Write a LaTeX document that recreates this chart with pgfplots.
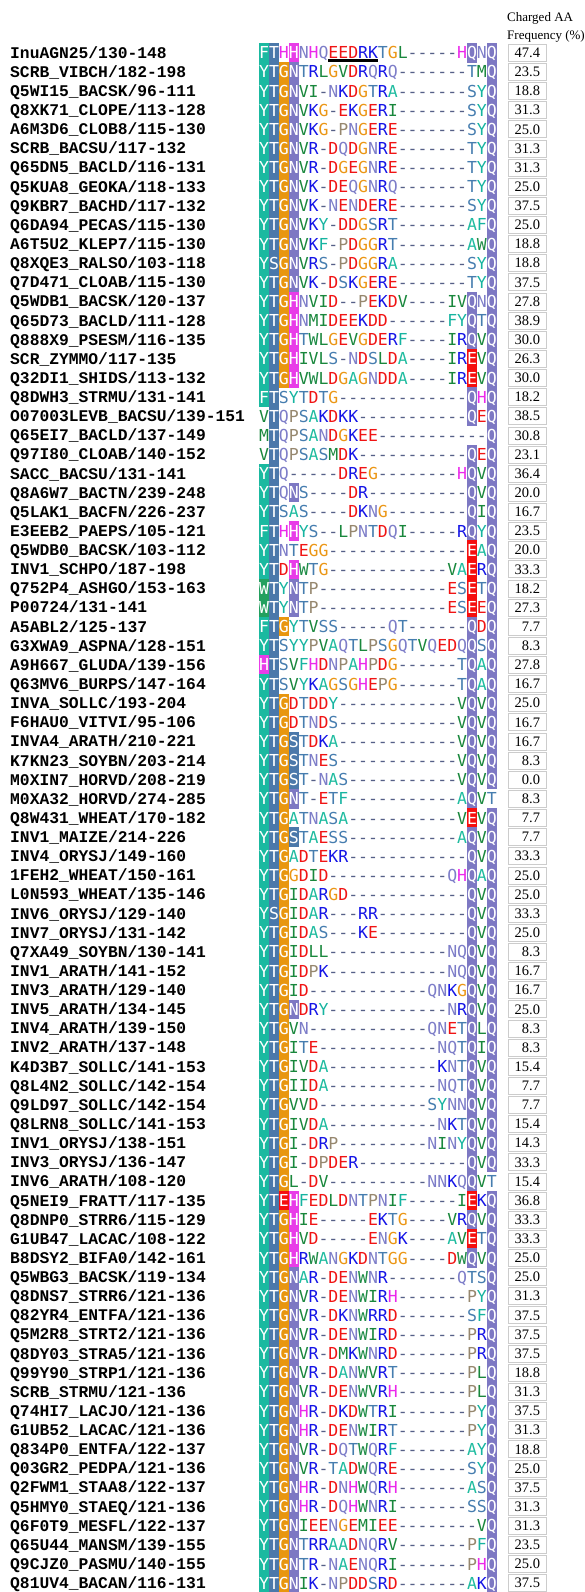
\documentclass[border=0pt]{standalone}
\usepackage{fontspec}
\usepackage{xcolor}
\usepackage{pgfplots}
\usepackage{pgfplotstable}
\pgfplotsset{compat=1.18}
\setmainfont{Liberation Serif}
\newfontfamily\namefont{Liberation Mono}
\newfontfamily\seqfont{DejaVu Sans Mono}

% residue (letter) colours
\definecolor{fgA}{RGB}{32,188,160}
\definecolor{fgY}{RGB}{22,180,160}
\definecolor{fgF}{RGB}{22,180,160}
\definecolor{fgW}{RGB}{30,140,70}
\definecolor{fgV}{RGB}{25,135,60}
\colorlet{fgI}{fgV}\colorlet{fgL}{fgV}\colorlet{fgM}{fgV}
\definecolor{fgK}{RGB}{20,20,230}\colorlet{fgR}{fgK}
\definecolor{fgD}{RGB}{240,20,20}\colorlet{fgE}{fgD}
\definecolor{fgN}{RGB}{125,125,200}\colorlet{fgQ}{fgN}
\definecolor{fgS}{RGB}{70,125,175}\colorlet{fgT}{fgS}
\definecolor{fgG}{RGB}{235,150,20}\colorlet{fgC}{fgG}
\definecolor{fgH}{RGB}{235,40,235}
\definecolor{fgP}{RGB}{150,135,110}
\definecolor{fgGap}{RGB}{85,95,135}
% background colours (lower case = shaded cell)
\definecolor{bgy}{RGB}{26,185,160}\colorlet{bgf}{bgy}
\definecolor{bgw}{RGB}{35,160,95}
\definecolor{bgt}{RGB}{75,120,170}\colorlet{bgs}{bgt}
\definecolor{bgg}{RGB}{232,150,15}
\definecolor{bgh}{RGB}{232,60,232}
\definecolor{bgn}{RGB}{125,120,195}\colorlet{bgq}{bgn}
\definecolor{bge}{RGB}{245,15,15}

\newlength\cw \setlength\cw{9.9pt}
\newlength\rht \setlength\rht{19.4pt}
\newlength\rdp \setlength\rdp{3.7pt}

\makeatletter
\def\seqrender#1{\seq@loop#1\@nil}
\def\seq@loop#1{\ifx#1\@nil\else\seq@char#1\expandafter\seq@loop\fi}
\def\seq@char#1{%
  \ifx-#1\makebox[\cw][c]{\textcolor{fgGap}{-}}%
  \else\ifnum\lccode`#1=`#1\relax\seq@bg#1%
  \else\makebox[\cw][c]{\textcolor{fg#1}{#1}}%
  \fi\fi}
\def\seq@bg#1{%
  \uppercase{\def\seq@U{#1}}%
  \rlap{\textcolor{bg#1}{\rule[-\rdp]{\cw}{\rht}}}%
  \makebox[\cw][c]{\textcolor{white}{\seq@U}}}
\def\seqnode{\edef\seq@tmp{\pgfplotspointmeta}\expandafter\seqrender\expandafter{\seq@tmp}}
\makeatother

\catcode`\_=12
\pgfplotstableread{
row name seq val
1 InuAGN25/130-148 ftHhNHQEEDRKTGL-----HqNq 47.4
2 SCRB_VIBCH/182-198 ytgnTRLGVDRQRQ-------TMq 23.5
3 Q5WI15_BACSK/96-111 ytgnVI-NKDGTRA-------SYq 18.8
4 Q8XK71_CLOPE/113-128 ytgnVKG-EKGERI-------SYq 31.3
5 A6M3D6_CLOB8/115-130 ytgnVKG-PNGERE-------SYq 25.0
6 SCRB_BACSU/117-132 ytgnVR-DQDGNRE-------TYq 31.3
7 Q65DN5_BACLD/116-131 ytgnVR-DGEGNRE-------TYq 31.3
8 Q5KUA8_GEOKA/118-133 ytgnVK-DEQGNRQ-------TYq 25.0
9 Q9KBR7_BACHD/117-132 ytgnVK-NENDERE-------SYq 37.5
10 Q6DA94_PECAS/115-130 ytgnVKY-DDGSRT-------AFq 25.0
11 A6T5U2_KLEP7/115-130 ytgnVKF-PDGGRT-------AWq 18.8
12 Q8XQE3_RALSO/103-118 ysgnVRS-PDGGRA-------SYq 18.8
13 Q7D471_CLOAB/115-130 ytgnVK-DSKGERE-------TYq 37.5
14 Q5WDB1_BACSK/120-137 ytghNVID--PEKDV----IVqNq 27.8
15 Q65D73_BACLD/111-128 ytghNMIDEEKDD------FYqTq 38.9
16 Q888X9_PSESM/116-135 ytghTWLGEVGDERF----IRqVq 30.0
17 SCR_ZYMMO/117-135 ytghIVLS-NDSLDA----IReVq 26.3
18 Q32DI1_SHIDS/113-132 ytghVWLDGAGNDDA----IReVq 30.0
19 Q8DWH3_STRMU/131-141 ftSYTDTG-------------qHq 18.2
20 O07003LEVB_BACSU/139-151 VtQPSAKDKK-----------qEq 38.5
21 Q65EI7_BACLD/137-149 MtQPSANDGKEE-----------q 30.8
22 Q97I80_CLOAB/140-152 VtQPSASMDK-----------qEq 23.1
23 SACC_BACSU/131-141 ytQ-----DREG--------HqVq 36.4
24 Q8A6W7_BACTN/239-248 ytQnS----DR----------qVq 20.0
25 Q5LAK1_BACFN/226-237 ytSAS----DKNG--------qIq 16.7
26 E3EEB2_PAEPS/105-121 ftHhYS--LPNTDQI-----RqYq 23.5
27 Q5WDB0_BACSK/103-112 ytNTEGG--------------eAq 20.0
28 INV1_SCHPO/187-198 ytDhWTG------------VAeRq 33.3
29 Q752P4_ASHGO/153-163 wtYnTP-------------ESeTq 18.2
30 P00724/131-141 wtYnTP-------------ESeEq 27.3
31 A5ABL2/125-137 ftgYTVSS-----QT------qDq 7.7
32 G3XWA9_ASPNA/128-151 ytSYYPVAQTLPSGQTVQEDQqSq 8.3
33 A9H667_GLUDA/139-156 htSVFHDNPAHPDG------TqAq 27.8
34 Q63MV6_BURPS/147-164 ytSVYKAGSGHEPG------TqAq 16.7
35 INVA_SOLLC/193-204 ytgDTDDY------------VqVq 25.0
36 F6HAU0_VITVI/95-106 ytgDTNDS------------VqVq 16.7
37 INVA4_ARATH/210-221 ytgsTDKA------------VqVq 16.7
38 K7KN23_SOYBN/203-214 ytgsTNES------------VqVq 8.3
39 M0XIN7_HORVD/208-219 ytgsT-NAS-----------VqVq 0.0
40 M0XA32_HORVD/274-285 ytgnT-ETF-----------AqVT 8.3
41 Q8W431_WHEAT/170-182 ytgATNASA-----------VeVq 7.7
42 INV1_MAIZE/214-226 ytgsTAESS-----------AqVq 7.7
43 INV4_ORYSJ/149-160 ytgADTEKR------------qVq 33.3
44 1FEH2_WHEAT/150-161 ytgGDID------------QHqAq 25.0
45 L0N593_WHEAT/135-146 ytgIDARGD------------qVq 25.0
46 INV6_ORYSJ/129-140 ysgIDAR---RR---------qVq 33.3
47 INV7_ORYSJ/131-142 ytgIDAS---KE---------qVq 25.0
48 Q7XA49_SOYBN/130-141 ytgIDLL------------NQqVq 8.3
49 INV1_ARATH/141-152 ytgIDPK------------NQqVq 16.7
50 INV3_ARATH/129-140 ytgID------------QNKGqVq 16.7
51 INV5_ARATH/134-145 ytgnDRY------------NRqVq 25.0
52 INV4_ARATH/139-150 ytgVN------------QNETqLq 8.3
53 INV2_ARATH/137-148 ytgITE------------NQTqIq 8.3
54 K4D3B7_SOLLC/141-153 ytgIVDA-----------KNTqVq 15.4
55 Q8L4N2_SOLLC/142-154 ytgIIDA-----------NQTqVq 7.7
56 Q9LD97_SOLLC/142-154 ytgVVD-----------SYNNqVq 7.7
57 Q8LRN8_SOLLC/141-153 ytgIVDA-----------NKTqVq 15.4
58 INV1_ORYSJ/138-151 ytgI-DRP---------NINYqVq 14.3
59 INV3_ORYSJ/136-147 ytgI-DPDER-----------qVq 33.3
60 INV6_ARATH/108-120 ytgL-DV----------NNKQqVT 15.4
61 Q5NEI9_FRATT/117-135 ytehFEDLDNTPNIF-----IeKq 36.8
62 Q8DNP0_STRR6/115-129 ytghIE-----EKTG----VRqVq 33.3
63 G1UB47_LACAC/108-122 ytghVD-----ENGK----AVeTq 33.3
64 B8DSY2_BIFA0/142-161 ytghRWANGKDNTGG----DWqVq 25.0
65 Q5WBG3_BACSK/119-134 ytgnAR-DENWNR-------QTSq 25.0
66 Q8DNS7_STRR6/121-136 ytgnVR-DENWIRH-------PYq 31.3
67 Q82YR4_ENTFA/121-136 ytgnVR-DKNWRRD-------SFq 37.5
68 Q5M2R8_STRT2/121-136 ytgnVR-DENWIRD-------PRq 37.5
69 Q8DY03_STRA5/121-136 ytgnVR-DMKWNRD-------PRq 37.5
70 Q99Y90_STRP1/121-136 ytgnVR-DANWVRT-------PLq 18.8
71 SCRB_STRMU/121-136 ytgnVR-DENWVRH-------PLq 31.3
72 Q74HI7_LACJO/121-136 ytgnHR-DKDWTRI-------PYq 37.5
73 G1UB52_LACAC/121-136 ytgnHR-DENWIRT-------PYq 31.3
74 Q834P0_ENTFA/122-137 ytgnVR-DQTWQRF-------AYq 18.8
75 Q03GR2_PEDPA/121-136 ytgnVR-TADWQRE-------SYq 25.0
76 Q2FWM1_STAA8/122-137 ytgnHR-DNHWQRH-------ASq 37.5
77 Q5HMY0_STAEQ/121-136 ytgnHR-DQHWNRI-------SSq 31.3
78 Q6F0T9_MESFL/122-137 ytgnIEENGEMIEE--------Vq 31.3
79 Q65U44_MANSM/139-155 ytgnTRRAADNQRV-------PFq 23.5
80 Q9CJZ0_PASMU/140-155 ytgnTR-NAENQRI-------PHq 25.0
81 Q81UV4_BACAN/116-131 ytgnIK-NPDDSRD-------AKq 37.5
}\seqdata

\begin{document}
\begin{tikzpicture}
\begin{axis}[at={(0,0)}, anchor=south west,
  width=585pt, height=1592pt, scale only axis,
  xmin=0, xmax=585, ymin=-1.76, ymax=81.46, y dir=reverse,
  hide axis, clip=false]
% sequence names
\addplot[draw=none, mark=none, point meta=explicit symbolic,
  nodes near coords={\pgfplotspointmeta},
  every node near coord/.append style={anchor=base west, inner sep=0pt,
    yshift=-5.4pt, text=black,
    font=\namefont\bfseries\fontsize{16.3}{18}\selectfont}]
  table[x expr=10, y=row, meta=name]{\seqdata};
% aligned residues
\addplot[draw=none, mark=none, point meta=explicit symbolic,
  nodes near coords={\seqnode},
  every node near coord/.append style={anchor=base west, inner sep=0pt,
    yshift=-6pt, text=black,
    font=\seqfont\fontsize{16.5}{18}\selectfont}]
  table[x expr=259, y=row, meta=seq]{\seqdata};
% charged AA frequency
\addplot[draw=none, mark=none, point meta=explicit symbolic,
  nodes near coords={\pgfplotspointmeta},
  every node near coord/.append style={anchor=center, draw=gray!40,
    line width=0.8pt, text width=26pt, align=right, inner xsep=6pt,
    inner ysep=0pt, minimum height=17pt, yshift=0pt, text=black,
    font=\fontsize{14.5}{16}\selectfont}]
  table[x expr=527, y=row, meta=val]{\seqdata};
% underline of the EEDRK motif
\addplot[black, line width=3pt, mark=none] coordinates {(328.3,1.42) (377.8,1.42)};
\node[anchor=base west, inner sep=0pt, font=\fontsize{13}{15}\selectfont]
  at (axis cs:507,-0.63) {Charged AA};
\node[anchor=base west, inner sep=0pt, font=\fontsize{13}{15}\selectfont]
  at (axis cs:507,0.32) {Frequency (\%)};
\end{axis}
\pgfresetboundingbox
\path (0,0) rectangle (585pt,1592pt);
\end{tikzpicture}
\end{document}
